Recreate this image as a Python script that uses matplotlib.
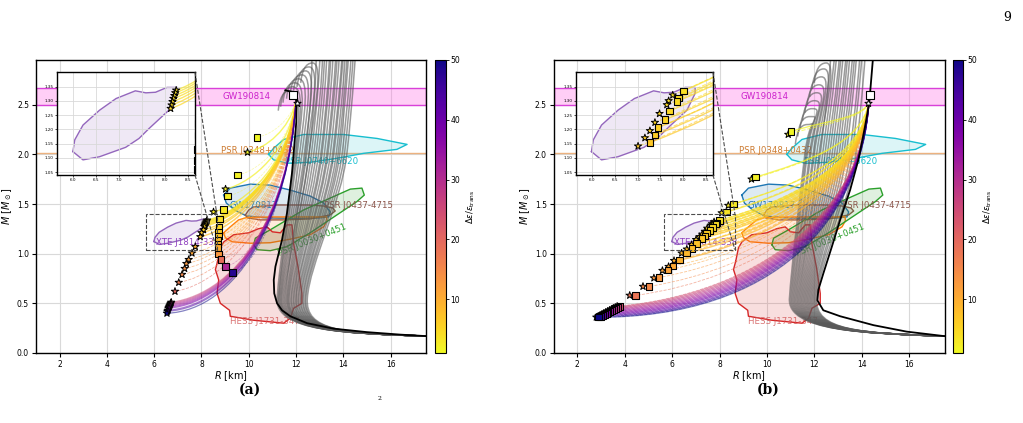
import matplotlib
matplotlib.use("Agg")
import matplotlib.pyplot as plt
from matplotlib.path import Path
from matplotlib.patches import PathPatch
from matplotlib.colors import Normalize
from matplotlib.cm import ScalarMappable
from mpl_toolkits.axes_grid1.inset_locator import mark_inset

# ---- observational constraints (R [km], M [Msun]) ----
gw190814_band = [2.50, 2.67]
j0348_mass = 2.01

j0740_r = [10.84, 11.05, 11.48, 12.32, 14.01, 15.43, 16.70, 16.27, 14.86, 13.73, 12.60, 11.62, 11.05, 10.84]
j0740_m = [2.00, 2.06, 2.15, 2.20, 2.20, 2.16, 2.10, 2.05, 2.01, 1.96, 1.92, 1.91, 1.945, 2.00]

gw170817_r = [8.94, 9.22, 10.07, 10.91, 11.76, 12.60, 13.17, 13.45, 13.38, 13.00, 12.00, 10.77, 9.90, 9.40, 9.05, 8.94]
gw170817_m = [1.59, 1.66, 1.70, 1.69, 1.64, 1.58, 1.51, 1.42, 1.37, 1.36, 1.355, 1.36, 1.38, 1.44, 1.51, 1.59]

j0437_r = [9.86, 10.00, 10.20, 11.20, 12.50, 13.17, 13.55, 13.66, 13.45, 12.60, 11.50, 10.49, 9.95, 9.86]
j0437_m = [1.39, 1.44, 1.47, 1.49, 1.49, 1.48, 1.46, 1.43, 1.39, 1.35, 1.34, 1.34, 1.36, 1.39]

orange_r = [8.94, 9.22, 9.57, 9.93, 11.00, 12.30, 13.30, 13.31, 13.17, 12.60, 11.76, 10.91, 10.07, 9.29, 9.01, 8.94]
orange_m = [1.21, 1.27, 1.34, 1.365, 1.37, 1.37, 1.37, 1.33, 1.27, 1.19, 1.146, 1.11, 1.105, 1.12, 1.16, 1.21]

j0030_r = [10.21, 10.28, 10.91, 12.32, 13.45, 14.30, 14.79, 14.89, 14.58, 13.73, 12.60, 11.62, 10.91, 10.35, 10.21]
j0030_m = [1.09, 1.156, 1.24, 1.44, 1.56, 1.65, 1.66, 1.59, 1.525, 1.39, 1.21, 1.07, 1.03, 1.04, 1.09]

xte_r = [5.99, 6.03, 6.21, 6.57, 6.93, 7.35, 7.58, 7.79, 8.04, 8.26, 8.26, 8.08, 7.65, 7.43, 7.14, 6.57, 6.21, 5.99]
xte_m = [1.122, 1.163, 1.215, 1.267, 1.308, 1.335, 1.328, 1.33, 1.347, 1.347, 1.326, 1.267, 1.203, 1.168, 1.137, 1.104, 1.093, 1.122]

hess_r = [8.68, 8.80, 8.95, 9.36, 10.00, 10.40, 10.77, 11.00, 11.34, 11.62, 11.83, 11.90, 12.10, 12.25, 12.25,
          11.90, 11.76, 11.48, 10.20, 9.22, 9.19, 8.80, 8.66, 8.73, 8.59, 8.68]
hess_m = [0.92, 1.06, 1.12, 1.19, 1.21, 1.25, 1.27, 1.22, 1.21, 1.29, 1.29, 1.10, 0.85, 0.60, 0.50,
          0.45, 0.35, 0.30, 0.33, 0.37, 0.43, 0.50, 0.60, 0.735, 0.84, 0.92]

# ---- hadronic reference curve (black) ----
black_a_r = [17.5, 16.41, 15.0, 13.59, 12.47, 11.76, 11.41, 11.20, 11.08, 11.06, 11.13, 11.41, 11.62, 11.83, 12.01, 12.03, 11.95, 11.80, 11.55]
black_a_m = [0.17, 0.185, 0.21, 0.245, 0.30, 0.37, 0.43, 0.50, 0.60, 0.735, 0.87, 1.14, 1.41, 1.81, 2.32, 2.52, 2.59, 2.63, 2.645]
black_b_r = [17.48, 15.9, 14.5, 13.09, 12.38, 12.13, 12.17, 12.38, 12.74, 13.09, 13.51, 13.86, 14.14, 14.32, 14.40, 14.47]
black_b_m = [0.17, 0.215, 0.28, 0.37, 0.43, 0.53, 0.635, 0.80, 1.07, 1.34, 1.64, 1.945, 2.28, 2.52, 2.75, 2.95]

# ---- grey family of hadronic curves: R at M~0.5, R at M=2.0, R and M at the top ----
gray_a_rmin = [11.20, 11.25, 11.28, 11.32, 11.36, 11.40, 11.45, 11.50, 11.55, 11.60, 11.64, 11.68, 11.72, 11.78,
               11.82, 11.88, 11.92, 11.98, 12.02, 12.08, 12.12, 12.18, 12.22, 12.28, 12.32, 12.38, 12.42, 12.48]
gray_a_rmid = [11.95, 12.00, 12.05, 12.15, 12.25, 12.35, 12.45, 12.55, 12.40, 12.55, 12.65, 12.75, 12.85, 12.95,
               13.05, 13.10, 13.20, 13.30, 13.35, 13.45, 13.55, 13.60, 13.70, 13.78, 13.85, 13.95, 14.05, 14.15]
gray_a_rtop = [11.75, 11.85, 11.95, 12.10, 12.25, 12.40, 12.55, 12.70, 12.40, 12.60, 12.80, 12.90, 13.00, 13.10,
               13.20, 13.30, 13.40, 13.50, 13.60, 13.70, 13.80, 13.85, 13.95, 14.05, 14.10, 14.20, 14.30, 14.40]
gray_a_mtop = [2.64, 2.68, 2.72, 2.76, 2.80, 2.84, 2.88, 2.92, 3.30, 3.35, 3.40, 3.30, 3.45, 3.50,
               3.40, 3.55, 3.60, 3.50, 3.60, 3.70, 3.60, 3.65, 3.70, 3.75, 3.80, 3.70, 3.80, 3.90]

gray_b_rmin = [10.95, 11.00, 11.05, 11.10, 11.15, 11.20, 11.25, 11.30, 11.35, 11.40, 11.45, 11.50, 11.55, 11.60,
               11.65, 11.70, 11.75, 11.80, 11.85, 11.90, 11.95, 12.00, 12.05, 12.10]
gray_b_rmid = [11.60, 11.65, 11.70, 11.80, 11.85, 11.95, 12.00, 12.10, 12.20, 12.25, 12.35, 12.45, 12.55, 12.65,
               12.75, 12.85, 12.95, 13.05, 13.15, 13.25, 13.35, 13.50, 13.60, 13.75]
gray_b_rtop = [11.70, 11.80, 11.90, 12.00, 12.10, 12.20, 12.30, 12.40, 12.50, 12.50, 12.70, 12.80, 12.90, 13.00,
               13.10, 13.20, 13.30, 13.40, 13.50, 13.60, 13.70, 13.80, 13.90, 14.05]
gray_b_mtop = [2.30, 2.38, 2.46, 2.54, 2.62, 2.70, 2.78, 2.86, 2.92, 3.30, 3.35, 3.40, 3.30, 3.45,
               3.50, 3.40, 3.55, 3.60, 3.50, 3.60, 3.70, 3.60, 3.70, 3.80]

# ---- hybrid branches, panel (a) ----
trans_a = (12.00, 2.53)
a_star_r = [9.95, 9.02, 8.51, 8.24, 8.22, 8.20, 8.18, 8.16, 8.14, 8.12, 8.09, 8.00, 7.95, 7.74, 7.60, 7.46,
            7.36, 7.29, 7.18, 7.04, 6.88, 6.72, 6.70, 6.68, 6.66, 6.64, 6.62, 6.60, 6.58, 6.56, 6.54]
a_star_m = [2.02, 1.65, 1.42, 1.337, 1.328, 1.318, 1.308, 1.297, 1.285, 1.273, 1.24, 1.21, 1.17, 1.07, 1.005, 0.94,
            0.90, 0.85, 0.79, 0.71, 0.62, 0.51, 0.50, 0.49, 0.48, 0.47, 0.46, 0.45, 0.43, 0.42, 0.40]
a_star_de = [1.5, 2, 3, 3.3, 3.6, 3.9, 4.2, 4.5, 4.8, 5.1, 6, 7, 8, 10, 11, 12,
             13, 14, 15, 17, 20, 26, 28, 30, 32, 34, 36, 38, 41, 45, 50]
a_sq_r = [10.35, 9.52, 9.11, 8.93, 8.76, 8.74, 8.72, 8.72, 8.69, 8.69, 8.70, 8.73, 8.83, 9.02, 9.31]
a_sq_m = [2.17, 1.79, 1.58, 1.445, 1.35, 1.27, 1.22, 1.18, 1.13, 1.09, 1.06, 0.995, 0.94, 0.87, 0.81]
a_sq_de = [1.5, 2, 2.5, 3, 4, 5, 6, 7, 8, 9, 10, 13, 19, 31, 48]

# ---- hybrid branches, panel (b) ----
trans_b = (14.30, 2.52)
b_star_r = [10.90, 9.35, 8.37, 8.09, 7.77, 7.68, 7.64, 7.48, 7.38, 7.27, 7.16, 7.01, 6.82, 6.62, 6.40, 6.08, 5.85,
            5.59, 5.23, 4.77, 4.21, 3.68, 3.60, 3.52, 3.44, 3.36, 3.28, 3.20, 3.12, 3.04, 2.96, 2.88, 2.80]
b_star_m = [2.20, 1.75, 1.485, 1.41, 1.32, 1.30, 1.286, 1.255, 1.224, 1.195, 1.17, 1.141, 1.09, 1.045, 1.005, 0.93, 0.87,
            0.83, 0.755, 0.67, 0.58, 0.47, 0.46, 0.45, 0.44, 0.43, 0.42, 0.41, 0.40, 0.39, 0.38, 0.37, 0.36]
b_sq_r = [11.02, 9.52, 8.59, 8.30, 8.00, 7.90, 7.86, 7.70, 7.60, 7.45, 7.38, 7.27, 7.03, 6.83, 6.61, 6.32, 6.04,
          5.83, 5.45, 5.03, 4.46, 3.79, 3.71, 3.62, 3.54, 3.46, 3.38, 3.30, 3.22, 3.14, 3.06, 2.98, 2.90]
b_sq_m = [2.23, 1.77, 1.50, 1.42, 1.335, 1.31, 1.298, 1.265, 1.234, 1.207, 1.18, 1.154, 1.10, 1.05, 1.005, 0.935, 0.875,
          0.837, 0.76, 0.67, 0.58, 0.47, 0.46, 0.45, 0.44, 0.43, 0.42, 0.41, 0.40, 0.39, 0.38, 0.37, 0.36]
b_de = [1.5, 2, 3, 3.5, 4, 4.3, 4.6, 5, 5.4, 5.8, 6.2, 6.6, 7.2, 7.8, 8.5, 9.5, 10.5,
        11.5, 13, 15, 18, 24, 26, 28, 30, 32, 34, 36, 38, 40, 43, 46, 50]

cmap = plt.get_cmap("plasma_r")
norm = Normalize(vmin=1, vmax=50)


def bezier(ax, pts, **kw):
    codes = [Path.MOVETO] + [Path.CURVE4] * (len(pts) - 1)
    ax.add_patch(PathPatch(Path(pts, codes), fill=False, **kw))


def branch(ax, t, e, de, f, s, **kw):
    # cubic curve from the transition point down to the branch end
    dr = t[0] - e[0]
    dm = t[1] - e[1]
    p1 = (t[0] - 0.3, t[1] - 0.55 * dm)
    p2 = (e[0] + f * dr, e[1] + s * f * dr)
    bezier(ax, [t, p1, p2, e], color=cmap(norm(de)), **kw)


def draw_constraints(ax, labels=True):
    ax.axhspan(*gw190814_band, fc=(1.0, 0.45, 0.9, 0.35), ec=(0.85, 0.25, 0.85), lw=1.0, zorder=0.8)
    ax.axhline(j0348_mass, color="#e8a060", lw=1.0, alpha=0.8, zorder=0.8)
    for r, m, c in [(j0740_r, j0740_m, "#17becf"), (gw170817_r, gw170817_m, "#1f77b4"),
                    (j0437_r, j0437_m, "#8c564b"), (orange_r, orange_m, "#ff7f0e"),
                    (j0030_r, j0030_m, "#2ca02c"), (xte_r, xte_m, "#9467bd"),
                    (hess_r, hess_m, "#d62728")]:
        ax.fill(r, m, color=c, alpha=0.15, lw=0, zorder=0.9)
        ax.plot(r, m, color=c, lw=1.0, zorder=0.9)
    if labels:
        fs = 6.2
        ax.text(8.87, 2.585, "GW190814", color="#cc22cc", fontsize=fs, va="center", zorder=1)
        ax.text(8.81, 2.04, "PSR J0348+0432", color="#cc7a30", fontsize=fs, va="center", zorder=1)
        ax.text(11.55, 1.93, "PSR J0740+6620", color="#17becf", fontsize=fs, va="center", zorder=1)
        ax.text(9.17, 1.485, "GW170817", color="#1f77b4", fontsize=fs, va="center", zorder=1)
        ax.text(13.17, 1.485, "PSR J0437-4715", color="#8c564b", fontsize=fs, va="center", zorder=1)
        ax.text(11.19, 0.98, "PSR J0030+0451", color="#2ca02c", fontsize=fs, rotation=22, zorder=1)
        ax.text(6.07, 1.11, "XTE J1814-338", color="#8e3fbf", fontsize=fs, va="center", zorder=1)
        ax.text(9.22, 0.32, "HESS J1731-347", color="#d05050", fontsize=fs, va="center", alpha=0.8, zorder=1)


def draw_gray(ax, rmin, rmid, rtop, mtop):
    for r0, r1, r2, m2 in zip(rmin, rmid, rtop, mtop):
        pts = [(17.5, 0.17), (14.0, 0.20), (r0 - 0.1, 0.22), (r0, 0.55),
               (r0 + 0.1, 0.9), (r1 - 0.25, 1.5), (r1, 2.0),
               (r1 + 0.2, 2.4), (r2 + 0.5, m2), (r2, m2),
               (r2 - 0.3, m2), (r2 - 0.45, m2 - 0.08), (r2 - 0.5, m2 - 0.2)]
        bezier(ax, pts, color="0.35", lw=1.1, alpha=0.6, zorder=2)


def draw_panel_a(ax, labels=True, de_max=99):
    draw_constraints(ax, labels)
    draw_gray(ax, gray_a_rmin, gray_a_rmid, gray_a_rtop, gray_a_mtop)
    pts = [(r, m, de) for r, m, de in zip(a_star_r, a_star_m, a_star_de) if de <= de_max]
    for r, m, de in pts:
        s = 0.06 - 0.05 * de / 50
        if de < 10:
            branch(ax, trans_a, (r, m), de, 0.40, s, lw=1.0, alpha=0.7, zorder=2.5)
        elif de < 25:
            branch(ax, trans_a, (r, m), de, 0.45, s, lw=0.6, alpha=0.55, ls="--", zorder=2.5)
        else:
            branch(ax, trans_a, (r, m), de, 0.54, s, lw=0.9, alpha=0.5, zorder=2.5)
    for r, m, de in zip(a_sq_r, a_sq_m, a_sq_de):
        branch(ax, trans_a, (r, m), de, 0.40, 0.05, lw=0.5, alpha=0.4, ls="--", zorder=2.4)
    ax.plot(black_a_r, black_a_m, color="k", lw=1.3, zorder=3)
    ax.scatter([p[0] for p in pts], [p[1] for p in pts], c=[p[2] for p in pts], cmap=cmap, norm=norm,
               marker="*", s=30, edgecolors="k", linewidths=0.7, zorder=4)
    ax.scatter(a_sq_r, a_sq_m, c=a_sq_de, cmap=cmap, norm=norm, marker="s", s=22,
               edgecolors="k", linewidths=0.8, zorder=4)
    ax.scatter([12.04], [2.52], marker="*", s=30, c="white", edgecolors="k", linewidths=0.7, zorder=5)
    ax.scatter([11.87], [2.60], marker="s", s=26, c="white", edgecolors="k", linewidths=0.8, zorder=5)


def draw_panel_b(ax, labels=True, de_max=99):
    draw_constraints(ax, labels)
    draw_gray(ax, gray_b_rmin, gray_b_rmid, gray_b_rtop, gray_b_mtop)
    keep = [i for i, de in enumerate(b_de) if de <= de_max]
    for i in keep:
        de = b_de[i]
        sq = (b_sq_r[i], b_sq_m[i])
        st = (b_star_r[i], b_star_m[i])
        f = 0.45 + 0.2 * de / 50
        s = 0.08 * (1 - de / 50) ** 2
        if de < 10:
            branch(ax, trans_b, sq, de, f, s, lw=1.0, alpha=0.7, zorder=2.5)
            branch(ax, trans_b, st, de, f, s, lw=0.8, alpha=0.6, ls="--", zorder=2.5)
        elif de < 22:
            branch(ax, trans_b, sq, de, f, s, lw=0.6, alpha=0.55, ls="--", zorder=2.5)
        else:
            branch(ax, trans_b, sq, de, f, s, lw=0.9, alpha=0.5, zorder=2.5)
            branch(ax, trans_b, st, de, f, s, lw=0.6, alpha=0.4, ls="--", zorder=2.5)
    ax.plot(black_b_r, black_b_m, color="k", lw=1.3, zorder=3)
    ax.scatter([b_star_r[i] for i in keep], [b_star_m[i] for i in keep], c=[b_de[i] for i in keep],
               cmap=cmap, norm=norm, marker="*", s=30, edgecolors="k", linewidths=0.7, zorder=4)
    ax.scatter([b_sq_r[i] for i in keep], [b_sq_m[i] for i in keep], c=[b_de[i] for i in keep],
               cmap=cmap, norm=norm, marker="s", s=22, edgecolors="k", linewidths=0.8, zorder=4)
    ax.scatter([14.28], [2.52], marker="*", s=30, c="white", edgecolors="k", linewidths=0.7, zorder=5)
    ax.scatter([14.35], [2.60], marker="s", s=26, c="white", edgecolors="k", linewidths=0.8, zorder=5)


fig = plt.figure(figsize=(10.23, 4.23), dpi=100)

panels = [
    (draw_panel_a, 5.5, [0.0352, 0.1655, 0.3812, 0.6927], [0.4252, 0.1655, 0.0108, 0.6927], [0.0560, 0.5863, 0.1346, 0.2428]),
    (draw_panel_b, 7.0, [0.5412, 0.1655, 0.3822, 0.6927], [0.9313, 0.1655, 0.0105, 0.6927], [0.5630, 0.5863, 0.1339, 0.2428]),
]

for draw, de_ins, pos, cpos, ipos in panels:
    ax = fig.add_axes(pos)
    draw(ax)
    ax.set_xlim(1.0, 17.5)
    ax.set_ylim(0.0, 2.95)
    ax.set_xticks([2, 4, 6, 8, 10, 12, 14, 16])
    ax.set_yticks([0.0, 0.5, 1.0, 1.5, 2.0, 2.5])
    ax.tick_params(labelsize=5.5, length=3, width=0.8, pad=2)
    ax.grid(True, color="0.85", lw=0.8, zorder=0)
    ax.set_axisbelow(True)
    ax.set_xlabel("$R$ [km]", fontsize=7, labelpad=0)
    ax.set_ylabel(r"$M$ [$M_\odot$]", fontsize=7, labelpad=2)
    for sp in ax.spines.values():
        sp.set_linewidth(1.0)

    axins = fig.add_axes(ipos)
    draw(axins, labels=False, de_max=de_ins)
    axins.set_xlim(5.65, 8.65)
    axins.set_ylim(1.04, 1.40)
    axins.set_xticks([6.0, 6.5, 7.0, 7.5, 8.0, 8.5])
    axins.set_yticks([1.05, 1.10, 1.15, 1.20, 1.25, 1.30, 1.35])
    axins.tick_params(labelsize=3, length=1.5, width=0.5, pad=1)
    axins.grid(True, color="0.85", lw=0.6, zorder=0)
    for sp in axins.spines.values():
        sp.set_linewidth(1.0)
    mark_inset(ax, axins, loc1=1, loc2=4, fc="none", ec="0.3", ls="--", lw=0.8, zorder=6)

    cax = fig.add_axes(cpos)
    cb = fig.colorbar(ScalarMappable(norm=norm, cmap=cmap), cax=cax)
    cb.set_ticks([10, 20, 30, 40, 50])
    cb.ax.tick_params(labelsize=5.5, length=2, width=0.6, pad=1)
    cb.set_label(r"$\Delta\varepsilon/\varepsilon_{\rm trans}$", fontsize=6, labelpad=3)

fig.text(0.2444, 0.078, "(a)", fontsize=10, fontweight="bold", family="DejaVu Serif", ha="center", va="center")
fig.text(0.7507, 0.078, "(b)", fontsize=10, fontweight="bold", family="DejaVu Serif", ha="center", va="center")
fig.text(0.988, 0.95, "9", fontsize=9, family="DejaVu Serif", ha="right")
fig.text(0.3715, 0.055, "2", fontsize=4.5, family="DejaVu Serif", ha="center")

fig.savefig("out.png", dpi=100)
